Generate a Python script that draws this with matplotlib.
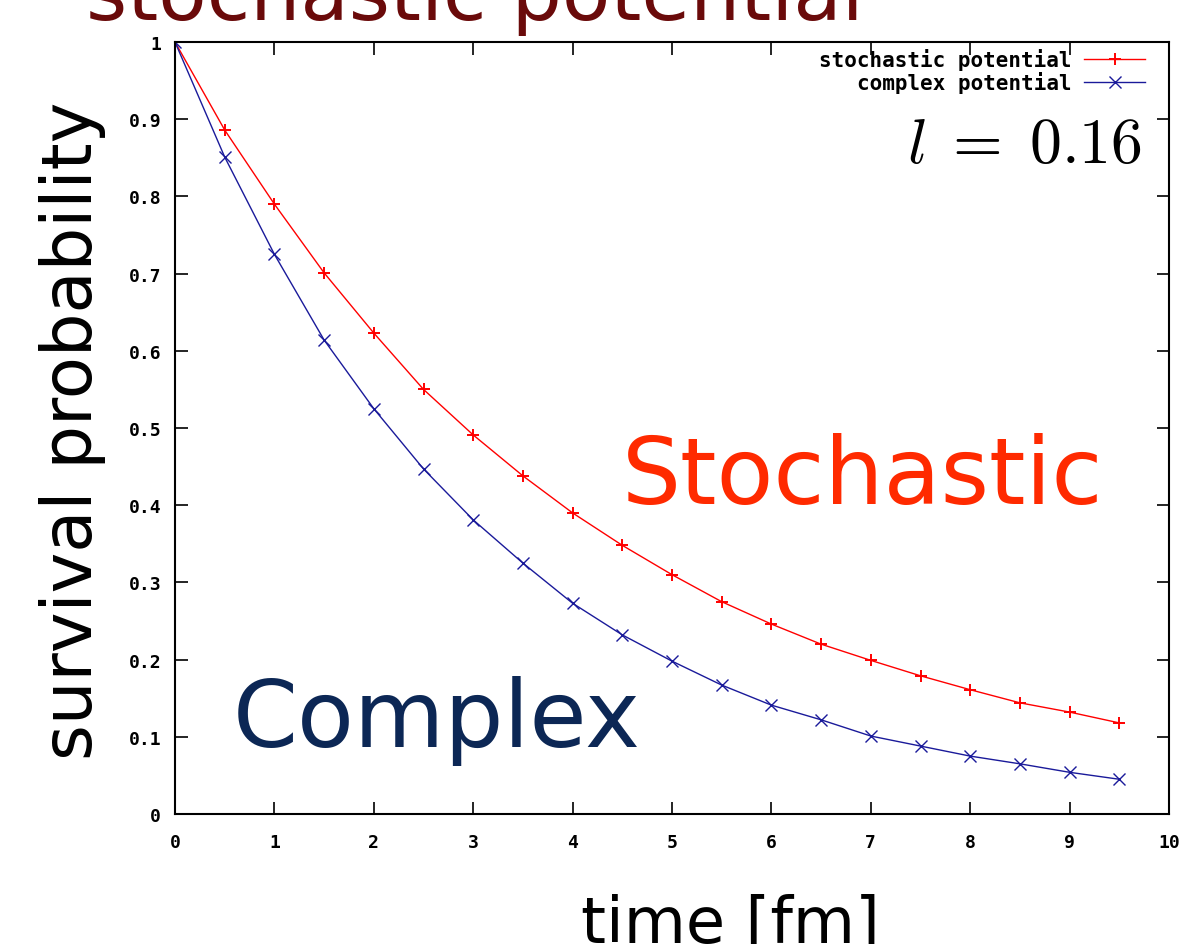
import numpy as np
import matplotlib.pyplot as plt

# survival probability vs time
time_fm = [0, 0.5, 1, 1.5, 2, 2.5, 3, 3.5, 4, 4.5, 5, 5.5, 6, 6.5, 7, 7.5, 8, 8.5, 9, 9.5]
stochastic = [1.0, 0.886, 0.790, 0.701, 0.623, 0.550, 0.491, 0.438, 0.390, 0.348,
              0.310, 0.275, 0.246, 0.220, 0.199, 0.179, 0.161, 0.144, 0.132, 0.118]
complex_pot = [1.0, 0.851, 0.725, 0.614, 0.525, 0.447, 0.381, 0.325, 0.273, 0.232,
               0.198, 0.167, 0.141, 0.122, 0.101, 0.088, 0.075, 0.065, 0.054, 0.045]
xticks = list(range(0, 11))
yticks = [0, 0.1, 0.2, 0.3, 0.4, 0.5, 0.6, 0.7, 0.8, 0.9, 1]
yticklabels = ["0", "0.1", "0.2", "0.3", "0.4", "0.5", "0.6", "0.7", "0.8", "0.9", "1"]

plt.rcParams['mathtext.fontset'] = 'cm'

fig = plt.figure(figsize=(11.88, 9.45), dpi=100)
ax = fig.add_axes([175/1188, 1 - 815/945, (1169 - 175)/1188, (815 - 43)/945])

ax.plot(time_fm, stochastic, color='#ff0000', lw=1.0, marker='+', ms=9, mew=1.4,
        label='stochastic potential')
ax.plot(time_fm, complex_pot, color='#1a1a9a', lw=1.0, marker='x', ms=8, mew=1.0,
        label='complex potential')

ax.set_xlim(0, 10)
ax.set_ylim(0, 1)
ax.set_xticks(xticks)
ax.set_yticks(yticks)
ax.set_yticklabels(yticklabels)
ax.tick_params(direction='in', length=9, width=1.2, top=True, right=True)
ax.tick_params(axis='x', pad=14)
ax.tick_params(axis='y', pad=10)
for lab in ax.get_xticklabels() + ax.get_yticklabels():
    lab.set_family('DejaVu Sans Mono')
    lab.set_fontweight('bold')
    lab.set_fontsize(13)
for sp in ax.spines.values():
    sp.set_linewidth(1.5)

leg = ax.legend(loc='upper right', bbox_to_anchor=(0.982, 1.0), frameon=False,
                markerfirst=False,
                prop={'family': 'DejaVu Sans Mono', 'weight': 'bold', 'size': 15},
                handlelength=2.9, handletextpad=0.6, labelspacing=0.05,
                borderaxespad=0.0, borderpad=0.3)
for t in leg.get_texts():
    t.set_ha('right')

ax.text(0.973, 0.868, r'$l\;=\;0.16$', transform=ax.transAxes, ha='right', va='center',
        fontsize=46)
ax.text(1103/1188, 1 - 504/945, 'Stochastic', transform=fig.transFigure, ha='right',
        va='baseline', fontsize=67, color='#ff2a00', family='DejaVu Sans')
ax.text(233/1188, 1 - 747/945, 'Complex', transform=fig.transFigure, ha='left',
        va='baseline', fontsize=67, color='#0c2755', family='DejaVu Sans')

fig.text(73/1188, 1 - 431/945, 'survival probability', rotation=90, ha='center',
         va='center', fontsize=49.5, family='DejaVu Sans')
fig.text(730/1188, 1 - 942/945, 'time [fm]', ha='center', va='baseline',
         fontsize=46, family='DejaVu Sans')
fig.text(475/1188, 1 - 20/945, 'stochastic potential', ha='center', va='baseline',
         fontsize=57, color='#6a0a0a', family='DejaVu Sans')

fig.savefig('out.png', dpi=100)
